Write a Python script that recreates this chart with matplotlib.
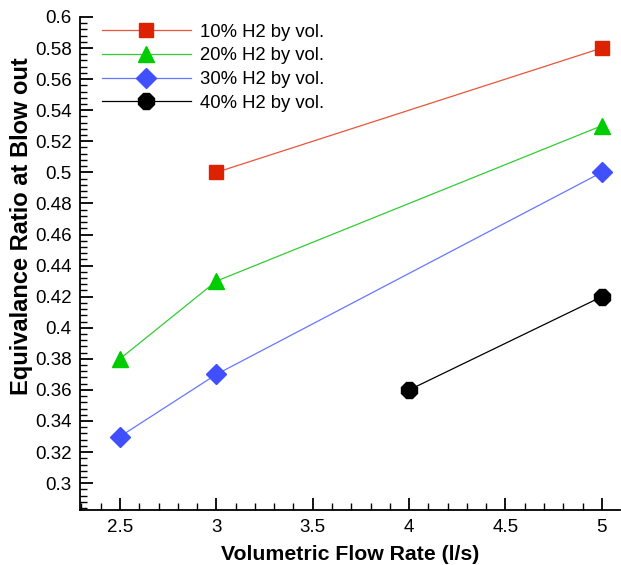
import matplotlib
matplotlib.use("Agg")
import matplotlib.pyplot as plt
from matplotlib.ticker import MultipleLocator

plt.rcParams['font.family'] = ['Liberation Sans', 'DejaVu Sans']

# data
series_labels = ['10% H2 by vol.', '20% H2 by vol.', '30% H2 by vol.', '40% H2 by vol.']
flow_10 = [3, 5]
phi_10 = [0.50, 0.58]
flow_20 = [2.5, 3, 5]
phi_20 = [0.38, 0.43, 0.53]
flow_30 = [2.5, 3, 5]
phi_30 = [0.33, 0.37, 0.50]
flow_40 = [4, 5]
phi_40 = [0.36, 0.42]

fig = plt.figure(figsize=(6.21, 5.65), dpi=100)
ax = fig.add_axes([0.129, 0.097, 0.869, 0.873])

ax.plot(flow_10, phi_10, color='#e8553a', lw=0.9, marker='s', ms=10,
        mfc='#dd2200', mec='#dd2200', label=series_labels[0])
ax.plot(flow_20, phi_20, color='#33cc33', lw=0.9, marker='^', ms=12,
        mfc='#00cc00', mec='#00cc00', label=series_labels[1])
ax.plot(flow_30, phi_30, color='#6677ff', lw=0.9, marker='D', ms=10,
        mfc='#4050ff', mec='#4050ff', label=series_labels[2])
ax.plot(flow_40, phi_40, color='black', lw=0.9, marker='8', ms=13,
        mfc='black', mec='black', label=series_labels[3])

ax.set_xlim(2.293, 5.093)
ax.set_ylim(0.2826, 0.6)

ax.xaxis.set_major_locator(MultipleLocator(0.5))
ax.xaxis.set_minor_locator(MultipleLocator(0.1))
ax.yaxis.set_major_locator(MultipleLocator(0.02))
ax.yaxis.set_minor_locator(MultipleLocator(0.004))
ax.xaxis.set_major_formatter(plt.FuncFormatter(lambda v, p: f'{v:g}'))
ax.yaxis.set_major_formatter(plt.FuncFormatter(lambda v, p: f'{round(v, 2):g}'))

ax.tick_params(which='major', direction='in', length=9, width=1.3, labelsize=13.5, pad=6)
ax.tick_params(which='minor', direction='in', length=5, width=1)
ax.spines['top'].set_visible(False)
ax.spines['right'].set_visible(False)
ax.spines['left'].set_linewidth(1.3)
ax.spines['bottom'].set_linewidth(1.3)

ax.set_xlabel('Volumetric Flow Rate (l/s)', fontsize=15.3, fontweight='bold', labelpad=7)
ax.set_ylabel('Equivalance Ratio at Blow out', fontsize=17, fontweight='bold')
ax.yaxis.set_label_coords(-0.087, 0.576)

ax.legend(loc='upper left', frameon=False, fontsize=13.3, handlelength=4.8,
          handletextpad=0.5, labelspacing=0.36, bbox_to_anchor=(0.010, 1.02))

fig.savefig('out.png', dpi=100)
